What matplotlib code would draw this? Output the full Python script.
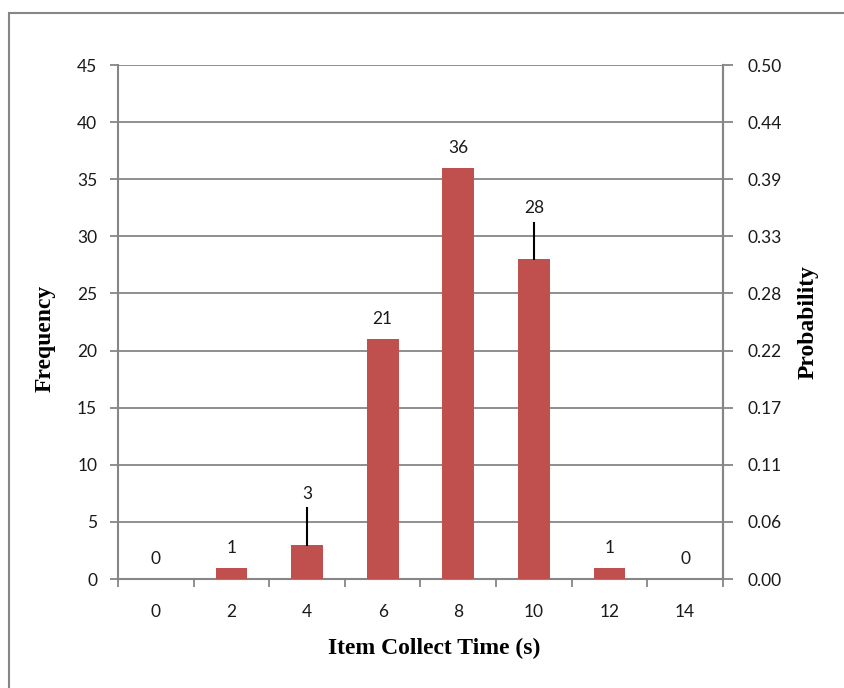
import numpy as np
import matplotlib
matplotlib.use("Agg")
import matplotlib.pyplot as plt
from matplotlib.patches import Rectangle

# data
times = [0, 2, 4, 6, 8, 10, 12, 14]
counts = [0, 1, 3, 21, 36, 28, 1, 0]
freq_ticks = [0, 5, 10, 15, 20, 25, 30, 35, 40, 45]
leader_bars = [4, 10]  # labels pulled up with a leader line

total = sum(counts)
grey = "#868686"
bar_color = "#C0504D"
tick_font = "Lato"
title_font = "Liberation Serif"

fig = plt.figure(figsize=(8.45, 6.88), dpi=100)
ax = fig.add_axes([118 / 845, 1 - 579 / 688, 605 / 845, 514 / 688])

x = np.arange(len(times))
ax.bar(x, counts, width=0.42, color=bar_color, zorder=3)

# data labels
for xi, t, c in zip(x, times, counts):
    if t in leader_bars:
        ax.plot([xi, xi], [c, c + 3.2], color="black", lw=1.5, zorder=4)
        ax.text(xi, c + 4.45, str(c), ha="center", va="center",
                fontsize=12.5, family=tick_font, color="#1a1a1a")
    else:
        ax.text(xi, c + 1.75, str(c), ha="center", va="center",
                fontsize=12.5, family=tick_font, color="#1a1a1a")

ax.set_xlim(-0.5, len(times) - 0.5)
ax.set_ylim(0, 45)
ax.set_yticks(freq_ticks)
ax.yaxis.grid(True, color=grey, lw=1.3, zorder=0)
ax.set_axisbelow(True)

# category labels in the middle, tick marks on the boundaries
ax.set_xticks(x)
ax.set_xticklabels([str(t) for t in times])
ax.set_xticks(np.arange(len(times) + 1) - 0.5, minor=True)
ax.tick_params(axis="x", which="major", length=0, pad=18)
ax.tick_params(axis="x", which="minor", length=6, width=1.3, color=grey, direction="out")
ax.tick_params(axis="y", length=6, width=1.3, color=grey, direction="out", pad=9)

for lab in ax.get_xticklabels() + ax.get_yticklabels():
    lab.set_family(tick_font)
    lab.set_fontsize(12.5)
    lab.set_color("#1a1a1a")

ax.spines["top"].set_visible(False)
for side in ["left", "right", "bottom"]:
    ax.spines[side].set_color(grey)
    ax.spines[side].set_linewidth(1.5)

# probability axis
ax2 = ax.twinx()
ax2.set_ylim(0, 45 / total)
prob_ticks = [f / total for f in freq_ticks]
ax2.set_yticks(prob_ticks)
ax2.set_yticklabels([f"{p:.2f}" for p in prob_ticks])
ax2.tick_params(axis="y", length=7, width=1.3, color=grey, direction="out", pad=11)
for lab in ax2.get_yticklabels():
    lab.set_family(tick_font)
    lab.set_fontsize(12.5)
    lab.set_color("#1a1a1a")
for side in ["top", "left", "bottom"]:
    ax2.spines[side].set_visible(False)
ax2.spines["right"].set_color(grey)
ax2.spines["right"].set_linewidth(1.5)

fig.text(45 / 845, 1 - 338 / 688, "Frequency", rotation=90, ha="center", va="center",
         family=title_font, fontweight="bold", fontsize=17)
fig.text(808 / 845, 1 - 322 / 688, "Probability", rotation=90, ha="center", va="center",
         family=title_font, fontweight="bold", fontsize=17)
fig.text(434 / 845, 1 - 648 / 688, "Item Collect Time (s)", ha="center", va="center",
         family=title_font, fontweight="bold", fontsize=17)

# chart-area border (runs off the right and bottom edges)
fig.add_artist(Rectangle((9.5 / 845, -0.05), 1.0, 1 - 12.5 / 688 + 0.05,
                         transform=fig.transFigure, fill=False,
                         edgecolor=grey, lw=1.5, clip_on=False))

fig.savefig("out.png", dpi=100)
